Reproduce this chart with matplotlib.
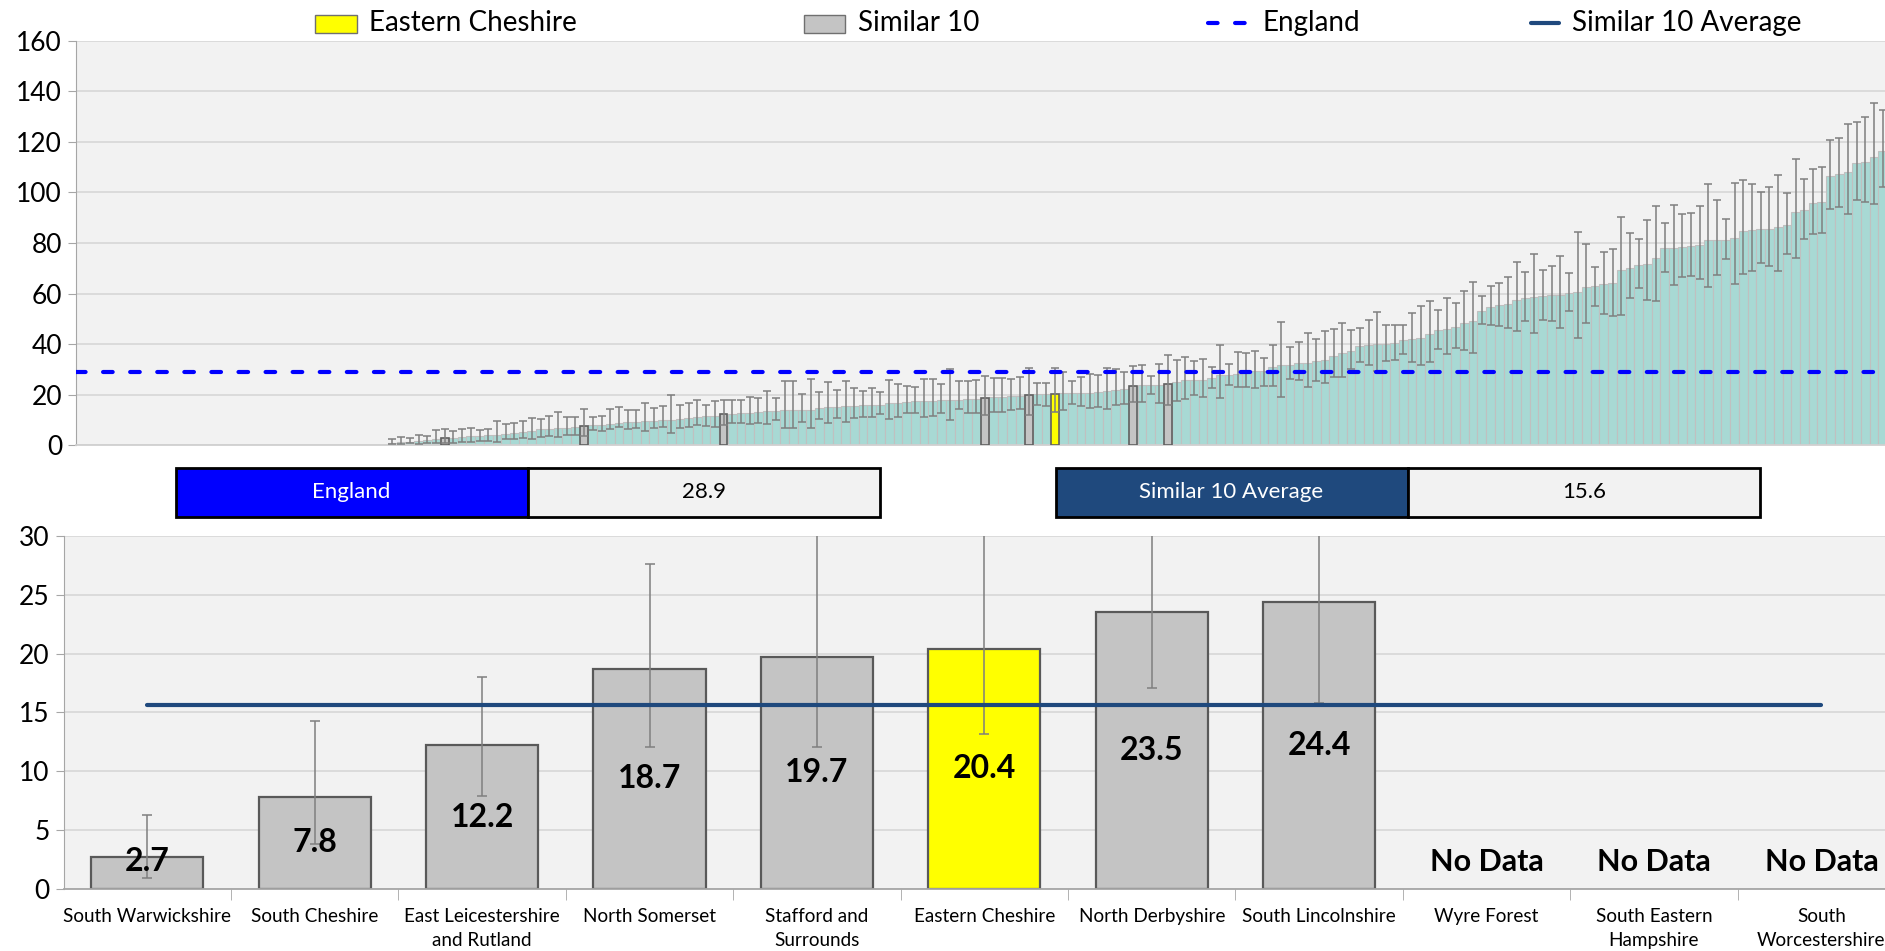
import numpy as np
import matplotlib
matplotlib.use('Agg')
import matplotlib.pyplot as plt
from matplotlib.patches import Rectangle
from matplotlib.lines import Line2D

plt.rcParams['font.family'] = ['Lato', 'DejaVu Sans']

# ---- data: all CCGs, sorted (top chart) ----
# first CCGs have no data, bars begin after them
n_no_data = 36

top_vals = [
    1.0, 1.3, 1.5, 1.8, 2.0, 2.4, 2.7, 3.0, 3.3, 3.5,
    3.7, 3.9, 4.1, 4.6, 4.8, 5.2, 5.6, 6.3, 6.5, 6.7,
    7.0, 7.2, 7.8, 8.0, 8.2, 8.6, 9.0, 9.2, 9.4, 9.6,
    9.8, 10.0, 10.2, 10.4, 10.6, 11.0, 11.4, 11.6, 12.2, 12.5,
    12.6, 12.9, 13.1, 13.6, 13.6, 13.8, 13.8, 14.1, 14.1, 14.9,
    15.1, 15.1, 15.4, 15.6, 15.8, 16.1, 16.1, 16.7, 16.9, 17.1,
    17.5, 17.7, 17.7, 17.8, 18.1, 18.1, 18.2, 18.3, 18.7, 19.0,
    19.1, 19.4, 19.5, 19.7, 20.2, 20.3, 20.4, 20.6, 20.7, 20.8,
    20.8, 20.9, 21.3, 22.0, 22.1, 23.5, 23.7, 23.7, 23.9, 24.4,
    24.9, 25.7, 25.9, 25.9, 26.6, 27.7, 27.8, 28.2, 28.5, 29.2,
    29.5, 30.8, 31.6, 31.9, 32.5, 32.6, 33.2, 33.7, 35.5, 36.5,
    37.3, 39.3, 39.8, 39.9, 40.2, 40.4, 41.5, 42.0, 42.4, 44.0,
    45.5, 46.1, 46.9, 48.4, 49.0, 53.1, 54.6, 55.3, 55.9, 57.6,
    58.4, 58.6, 58.9, 59.3, 59.4, 60.4, 60.6, 62.6, 63.1, 63.8,
    64.1, 69.3, 70.3, 71.4, 71.8, 74.2, 77.9, 78.0, 78.5, 78.8,
    79.2, 81.0, 81.2, 81.3, 82.0, 84.6, 85.0, 85.4, 85.5, 86.3,
    87.1, 92.1, 92.9, 95.7, 96.3, 106.4, 107.2, 108.2, 111.5, 112.0,
    114.1, 116.5]

top_low = [
    0.4, 0.5, 0.9, 0.6, 0.8, 0.8, 0.9, 1.0, 1.3, 1.4,
    1.8, 1.8, 1.3, 2.5, 2.6, 2.9, 2.6, 3.4, 3.7, 3.2,
    4.1, 4.1, 3.8, 6.0, 5.8, 6.3, 7.1, 6.3, 6.7, 5.8,
    6.7, 7.1, 5.0, 6.7, 7.1, 8.0, 7.6, 7.3, 7.9, 8.8,
    8.8, 8.3, 9.0, 8.3, 10.0, 6.7, 6.7, 9.4, 6.7, 10.3,
    8.7, 10.6, 9.4, 10.6, 11.0, 11.3, 12.4, 10.3, 11.3, 12.6,
    12.9, 11.3, 11.6, 12.9, 10.0, 14.2, 12.6, 12.6, 12.1, 13.3,
    13.3, 13.9, 14.2, 12.1, 15.8, 15.5, 13.2, 13.9, 16.3, 15.6,
    14.7, 15.3, 14.2, 15.8, 16.3, 17.1, 17.1, 20.3, 16.8, 15.8,
    17.6, 18.3, 19.8, 19.2, 22.7, 18.7, 23.9, 23.0, 23.2, 22.7,
    23.5, 23.6, 19.2, 26.1, 26.0, 23.2, 25.6, 24.6, 27.1, 27.1,
    30.0, 32.8, 31.8, 29.5, 33.3, 33.9, 36.0, 33.0, 31.8, 33.0,
    38.0, 36.0, 38.5, 37.7, 36.4, 47.9, 47.6, 47.3, 46.2, 45.3,
    49.1, 44.6, 49.6, 49.3, 46.2, 53.2, 42.3, 48.2, 55.0, 51.9,
    51.0, 51.7, 58.2, 62.3, 57.4, 57.2, 68.5, 63.4, 66.7, 67.0,
    65.6, 62.5, 67.2, 73.6, 63.9, 67.7, 69.0, 72.2, 70.8, 68.9,
    75.5, 73.9, 81.7, 83.7, 84.1, 93.3, 94.2, 91.6, 97.0, 96.2,
    95.4, 102.1]

top_high = [
    2.4, 3.3, 2.9, 4.2, 3.7, 6.1, 6.3, 5.8, 6.6, 6.9,
    6.1, 6.3, 9.6, 8.4, 8.7, 9.5, 10.7, 10.5, 11.7, 13.3,
    11.3, 11.0, 14.3, 11.0, 11.6, 14.5, 15.0, 14.0, 14.0, 16.8,
    14.7, 15.7, 19.7, 16.0, 16.6, 18.0, 15.8, 17.5, 18.0, 17.8,
    17.8, 19.2, 18.8, 21.3, 18.6, 25.6, 25.6, 20.4, 26.1, 21.2,
    25.2, 21.9, 25.6, 22.7, 21.6, 22.7, 21.2, 25.8, 24.3, 23.6,
    23.1, 26.4, 26.4, 24.1, 30.0, 25.3, 25.6, 25.8, 27.6, 26.8,
    26.8, 26.4, 27.2, 30.6, 24.8, 24.5, 30.4, 29.1, 25.3, 27.0,
    28.2, 27.7, 30.4, 30.2, 29.1, 31.4, 31.6, 27.3, 32.3, 35.8,
    33.9, 35.0, 33.4, 34.3, 30.9, 39.5, 32.1, 37.0, 36.6, 37.4,
    34.5, 39.6, 48.6, 38.9, 40.7, 44.5, 42.1, 45.2, 46.1, 48.2,
    45.6, 46.3, 49.6, 52.7, 47.5, 47.5, 47.5, 52.2, 55.2, 57.0,
    53.5, 58.4, 56.2, 61.1, 64.5, 59.1, 62.8, 64.3, 66.7, 72.3,
    68.5, 75.5, 69.2, 70.8, 75.0, 68.0, 84.5, 79.6, 70.5, 76.3,
    77.7, 90.4, 84.1, 81.4, 89.0, 94.6, 88.0, 94.9, 91.6, 92.0,
    94.7, 103.3, 97.1, 89.4, 103.6, 104.8, 103.3, 100.2, 102.3, 106.8,
    99.7, 113.1, 105.2, 109.4, 110.1, 120.7, 121.6, 127.0, 127.7, 130.0,
    135.5, 132.4]

# rank (1-based, among bars) of the similar 10 and of Eastern Cheshire
similar_rank = [7, 23, 39, 69, 74, 86, 90]
eastern_rank = 77

england_val = 28.9
similar_avg = 15.6

# ---- data: similar 10 (bottom chart) ----
ccg_names = ['South Warwickshire', 'South Cheshire', 'East Leicestershire\nand Rutland',
             'North Somerset', 'Stafford and\nSurrounds', 'Eastern Cheshire',
             'North Derbyshire', 'South Lincolnshire', 'Wyre Forest',
             'South Eastern\nHampshire', 'South\nWorcestershire']
ccg_vals = [2.7, 7.8, 12.2, 18.7, 19.7, 20.4, 23.5, 24.4, None, None, None]
ccg_low = [0.9, 3.8, 7.9, 12.1, 12.1, 13.2, 17.1, 15.8]
ccg_high = [6.3, 14.3, 18.0, 27.6, 30.6, 30.4, 31.4, 35.8]
highlight = 'Eastern Cheshire'

# ---- colours ----
teal = '#a8d9d4'
grey_bar = '#c4c4c4'
yellow = '#ffff00'
eng_blue = '#0000ff'
navy = '#1f497d'
bg = '#f2f2f2'
grid_col = '#d9d9d9'
err_col = '#7f7f7f'

W, H = 1885, 951
fig = plt.figure(figsize=(W / 100, H / 100), dpi=100)


def fx(px):
    return px / W


def fy(py):
    return 1 - py / H


# ================= top chart =================
ax1 = fig.add_axes([fx(76), fy(445.3), 1 - fx(76), fy(40.7) - fy(445.3)])
ax1.set_facecolor(bg)

top_vals = np.array(top_vals)
x_top = np.arange(len(top_vals)) + n_no_data
yerr_top = [top_vals - np.array(top_low), np.array(top_high) - top_vals]

ax1.bar(x_top, top_vals, width=1.0, color=teal, edgecolor='#c0c0c0', linewidth=0.8, zorder=2)

hl_idx = [r - 1 for r in similar_rank]
ax1.bar(x_top[hl_idx], top_vals[hl_idx], width=0.9, color=grey_bar, edgecolor='#606060',
        linewidth=1.2, zorder=3)
ax1.bar(x_top[eastern_rank - 1], top_vals[eastern_rank - 1], width=0.9, color=yellow,
        edgecolor='#606060', linewidth=1.2, zorder=3)

ax1.errorbar(x_top, top_vals, yerr=yerr_top, fmt='none', ecolor=err_col, elinewidth=1.1,
             capsize=3, capthick=1.1, zorder=4)

ax1.axhline(england_val, color=eng_blue, linewidth=3, dashes=(2.3, 4.2),
            dash_capstyle='round', zorder=5)

ax1.set_ylim(0, 160)
ax1.set_yticks(range(0, 161, 20))
ax1.set_xlim(-0.3, x_top[-1] + 0.26)
ax1.set_xticks([])
ax1.grid(axis='y', color=grid_col, linewidth=1.3, zorder=0)
ax1.set_axisbelow(True)
for s in ['top', 'right']:
    ax1.spines[s].set_visible(False)
ax1.spines['left'].set_color('#a6a6a6')
ax1.spines['bottom'].set_color('#d0d0d0')
ax1.spines['bottom'].set_linewidth(1.3)
ax1.tick_params(axis='y', labelsize=19, length=6, color='#a6a6a6', pad=4)

# ---- legend across the top ----
fs_leg = 20
fig.add_artist(Rectangle((fx(315), fy(32.5)), fx(42), fy(14.5) - fy(32.5),
                         transform=fig.transFigure, facecolor=yellow, edgecolor='#707070', lw=1))
fig.text(fx(369), fy(23), 'Eastern Cheshire', fontsize=fs_leg, va='center', ha='left')
fig.add_artist(Rectangle((fx(804), fy(32.5)), fx(41), fy(14.5) - fy(32.5),
                         transform=fig.transFigure, facecolor=grey_bar, edgecolor='#707070', lw=1))
fig.text(fx(858), fy(23), 'Similar 10', fontsize=fs_leg, va='center', ha='left')
fig.add_artist(Line2D([fx(1208), fx(1249)], [fy(23), fy(23)], transform=fig.transFigure,
                      color=eng_blue, lw=3, dashes=(2.3, 4.2), dash_capstyle='round'))
fig.text(fx(1262), fy(23), 'England', fontsize=fs_leg, va='center', ha='left')
fig.add_artist(Line2D([fx(1531), fx(1559)], [fy(23), fy(23)], transform=fig.transFigure,
                      color=navy, lw=3, solid_capstyle='round'))
fig.text(fx(1572), fy(23), 'Similar 10 Average', fontsize=fs_leg, va='center', ha='left')

# ---- England / Similar 10 Average boxes ----
box_y0, box_y1 = 517, 468
for lx, label, col, val in [(175.5, 'England', eng_blue, england_val),
                            (1055.5, 'Similar 10 Average', navy, similar_avg)]:
    fig.add_artist(Rectangle((fx(lx), fy(box_y0)), fx(352.3), fy(box_y1) - fy(box_y0),
                             transform=fig.transFigure, facecolor=col, edgecolor='black', lw=2))
    fig.add_artist(Rectangle((fx(lx + 352.3), fy(box_y0)), fx(352.3), fy(box_y1) - fy(box_y0),
                             transform=fig.transFigure, facecolor=bg, edgecolor='black', lw=2))
    fig.text(fx(lx + 176), fy(492.5), label, color='white', fontsize=16, ha='center', va='center')
    fig.text(fx(lx + 528.5), fy(492.5), '%.1f' % val, color='black', fontsize=16,
             ha='center', va='center')

# ================= bottom chart =================
ax2 = fig.add_axes([fx(63.6), fy(888.8), 1 - fx(63.6), fy(536) - fy(888.8)])
ax2.set_facecolor(bg)

n_cat = len(ccg_names)
xs = np.arange(n_cat)
for i, (name, v) in enumerate(zip(ccg_names, ccg_vals)):
    if v is None:
        ax2.text(i, 2.3, 'No Data', fontsize=22, fontweight='bold', ha='center', va='center',
                 zorder=6)
        continue
    col = yellow if name == highlight else grey_bar
    ax2.bar(i, v, width=0.67, color=col, edgecolor='#595959', linewidth=1.6, zorder=2)
    ax2.errorbar(i, v, yerr=[[v - ccg_low[i]], [ccg_high[i] - v]], fmt='none', ecolor=err_col,
                 elinewidth=1.1, capsize=3.5, capthick=1.1, zorder=3)
    ax2.text(i, max(v / 2, 2.3), '%.1f' % v, fontsize=23, fontweight='bold', ha='center',
             va='center', zorder=6)

ax2.plot([0, n_cat - 1], [similar_avg, similar_avg], color=navy, lw=3, solid_capstyle='round',
         zorder=5)

ax2.set_ylim(0, 30)
ax2.set_yticks(range(0, 31, 5))
ax2.set_xlim(-0.5, 10.38)
ax2.set_xticks(xs)
ax2.set_xticklabels(ccg_names, fontsize=13.6, linespacing=1.5)
ax2.set_xticks(xs[1:] - 0.5, minor=True)
ax2.tick_params(axis='x', which='major', length=0, pad=14)
ax2.tick_params(axis='x', which='minor', length=8, color='#a6a6a6', direction='out')
ax2.tick_params(axis='y', labelsize=19, length=6, color='#a6a6a6', pad=4)
ax2.grid(axis='y', color=grid_col, linewidth=1.3, zorder=0)
ax2.set_axisbelow(True)
for s in ['top', 'right']:
    ax2.spines[s].set_visible(False)
ax2.spines['left'].set_color('#a6a6a6')
ax2.spines['bottom'].set_color('#a6a6a6')
ax2.spines['bottom'].set_linewidth(1.3)

fig.savefig('out.png', dpi=100)
plt.close(fig)
